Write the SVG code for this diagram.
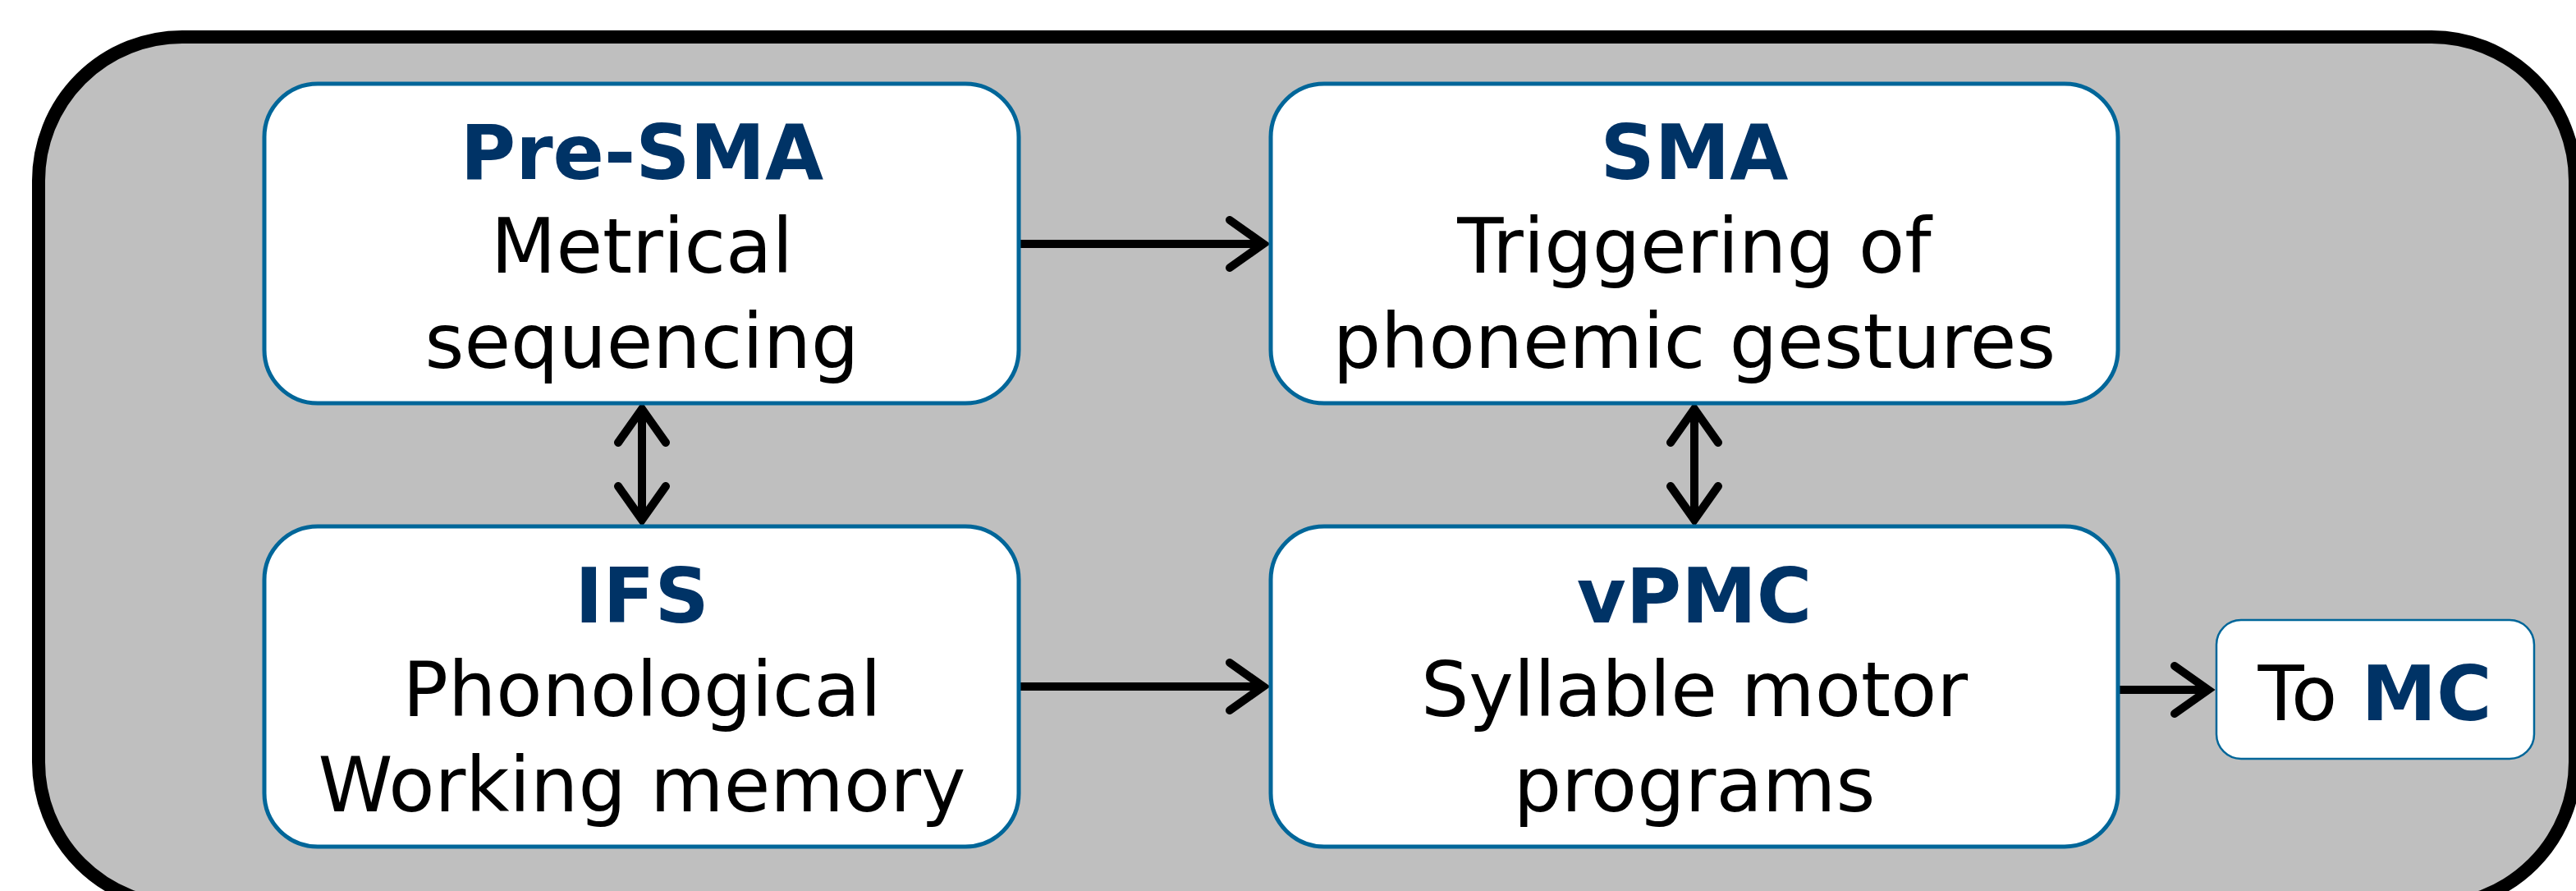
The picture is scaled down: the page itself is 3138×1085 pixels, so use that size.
<svg xmlns="http://www.w3.org/2000/svg" width="3138" height="1085" viewBox="0 0 3138 1085">
<style>
.box{fill:#ffffff;stroke:#006699;stroke-width:5}
.small{fill:#ffffff;stroke:#006699;stroke-width:2.5}
.t{font-family:"DejaVu Sans",Verdana,sans-serif;font-size:92px;fill:#000000;text-anchor:middle}
.h{font-weight:bold;fill:#003366}
.c{fill:none;stroke:#000000;stroke-width:10}
</style>
<defs>
<marker id="chev" viewBox="-50 -36 60 72" refX="0" refY="0" markerWidth="60" markerHeight="72" markerUnits="userSpaceOnUse" orient="auto-start-reverse">
<path d="M-41,-29 L0,0 L-41,29" fill="none" stroke="#000000" stroke-width="10" stroke-linecap="round" stroke-linejoin="miter"/>
</marker>
</defs>
<rect id="frame" x="47" y="45" width="3090" height="1058" rx="175" ry="175" fill="#bfbfbf" stroke="#000000" stroke-width="16"/>
<g id="connectors">
<line class="c" x1="1241" y1="297" x2="1539" y2="297" marker-end="url(#chev)"/>
<line class="c" x1="1241" y1="836" x2="1539" y2="836" marker-end="url(#chev)"/>
<line class="c" x1="2580" y1="840" x2="2690" y2="840" marker-end="url(#chev)"/>
<line class="c" x1="782" y1="498" x2="782" y2="633" marker-start="url(#chev)" marker-end="url(#chev)"/>
<line class="c" x1="2064" y1="498" x2="2064" y2="633" marker-start="url(#chev)" marker-end="url(#chev)"/>
</g>
<g id="presma">
<rect class="box" x="322" y="102" width="919" height="389" rx="65" ry="65"/>
<text class="t h" x="782" y="218">Pre-SMA</text>
<text class="t" x="782" y="332">Metrical</text>
<text class="t" x="782" y="448">sequencing</text>
</g>
<g id="sma">
<rect class="box" x="1548" y="102" width="1032" height="389" rx="65" ry="65"/>
<text class="t h" x="2064" y="218">SMA</text>
<text class="t" x="2064" y="332">Triggering of</text>
<text class="t" x="2064" y="448">phonemic gestures</text>
</g>
<g id="ifs">
<rect class="box" x="322" y="641" width="919" height="390" rx="65" ry="65"/>
<text class="t h" x="782" y="758">IFS</text>
<text class="t" x="782" y="872">Phonological</text>
<text class="t" x="782" y="988">Working memory</text>
</g>
<g id="vpmc">
<rect class="box" x="1548" y="641" width="1032" height="390" rx="65" ry="65"/>
<text class="t h" x="2064" y="758">vPMC</text>
<text class="t" x="2064" y="872">Syllable motor</text>
<text class="t" x="2064" y="988">programs</text>
</g>
<g id="tomc">
<rect class="small" x="2700" y="755" width="387" height="169" rx="30" ry="30"/>
<text class="t" x="2893" y="877">To <tspan class="h">MC</tspan></text>
</g>
</svg>
